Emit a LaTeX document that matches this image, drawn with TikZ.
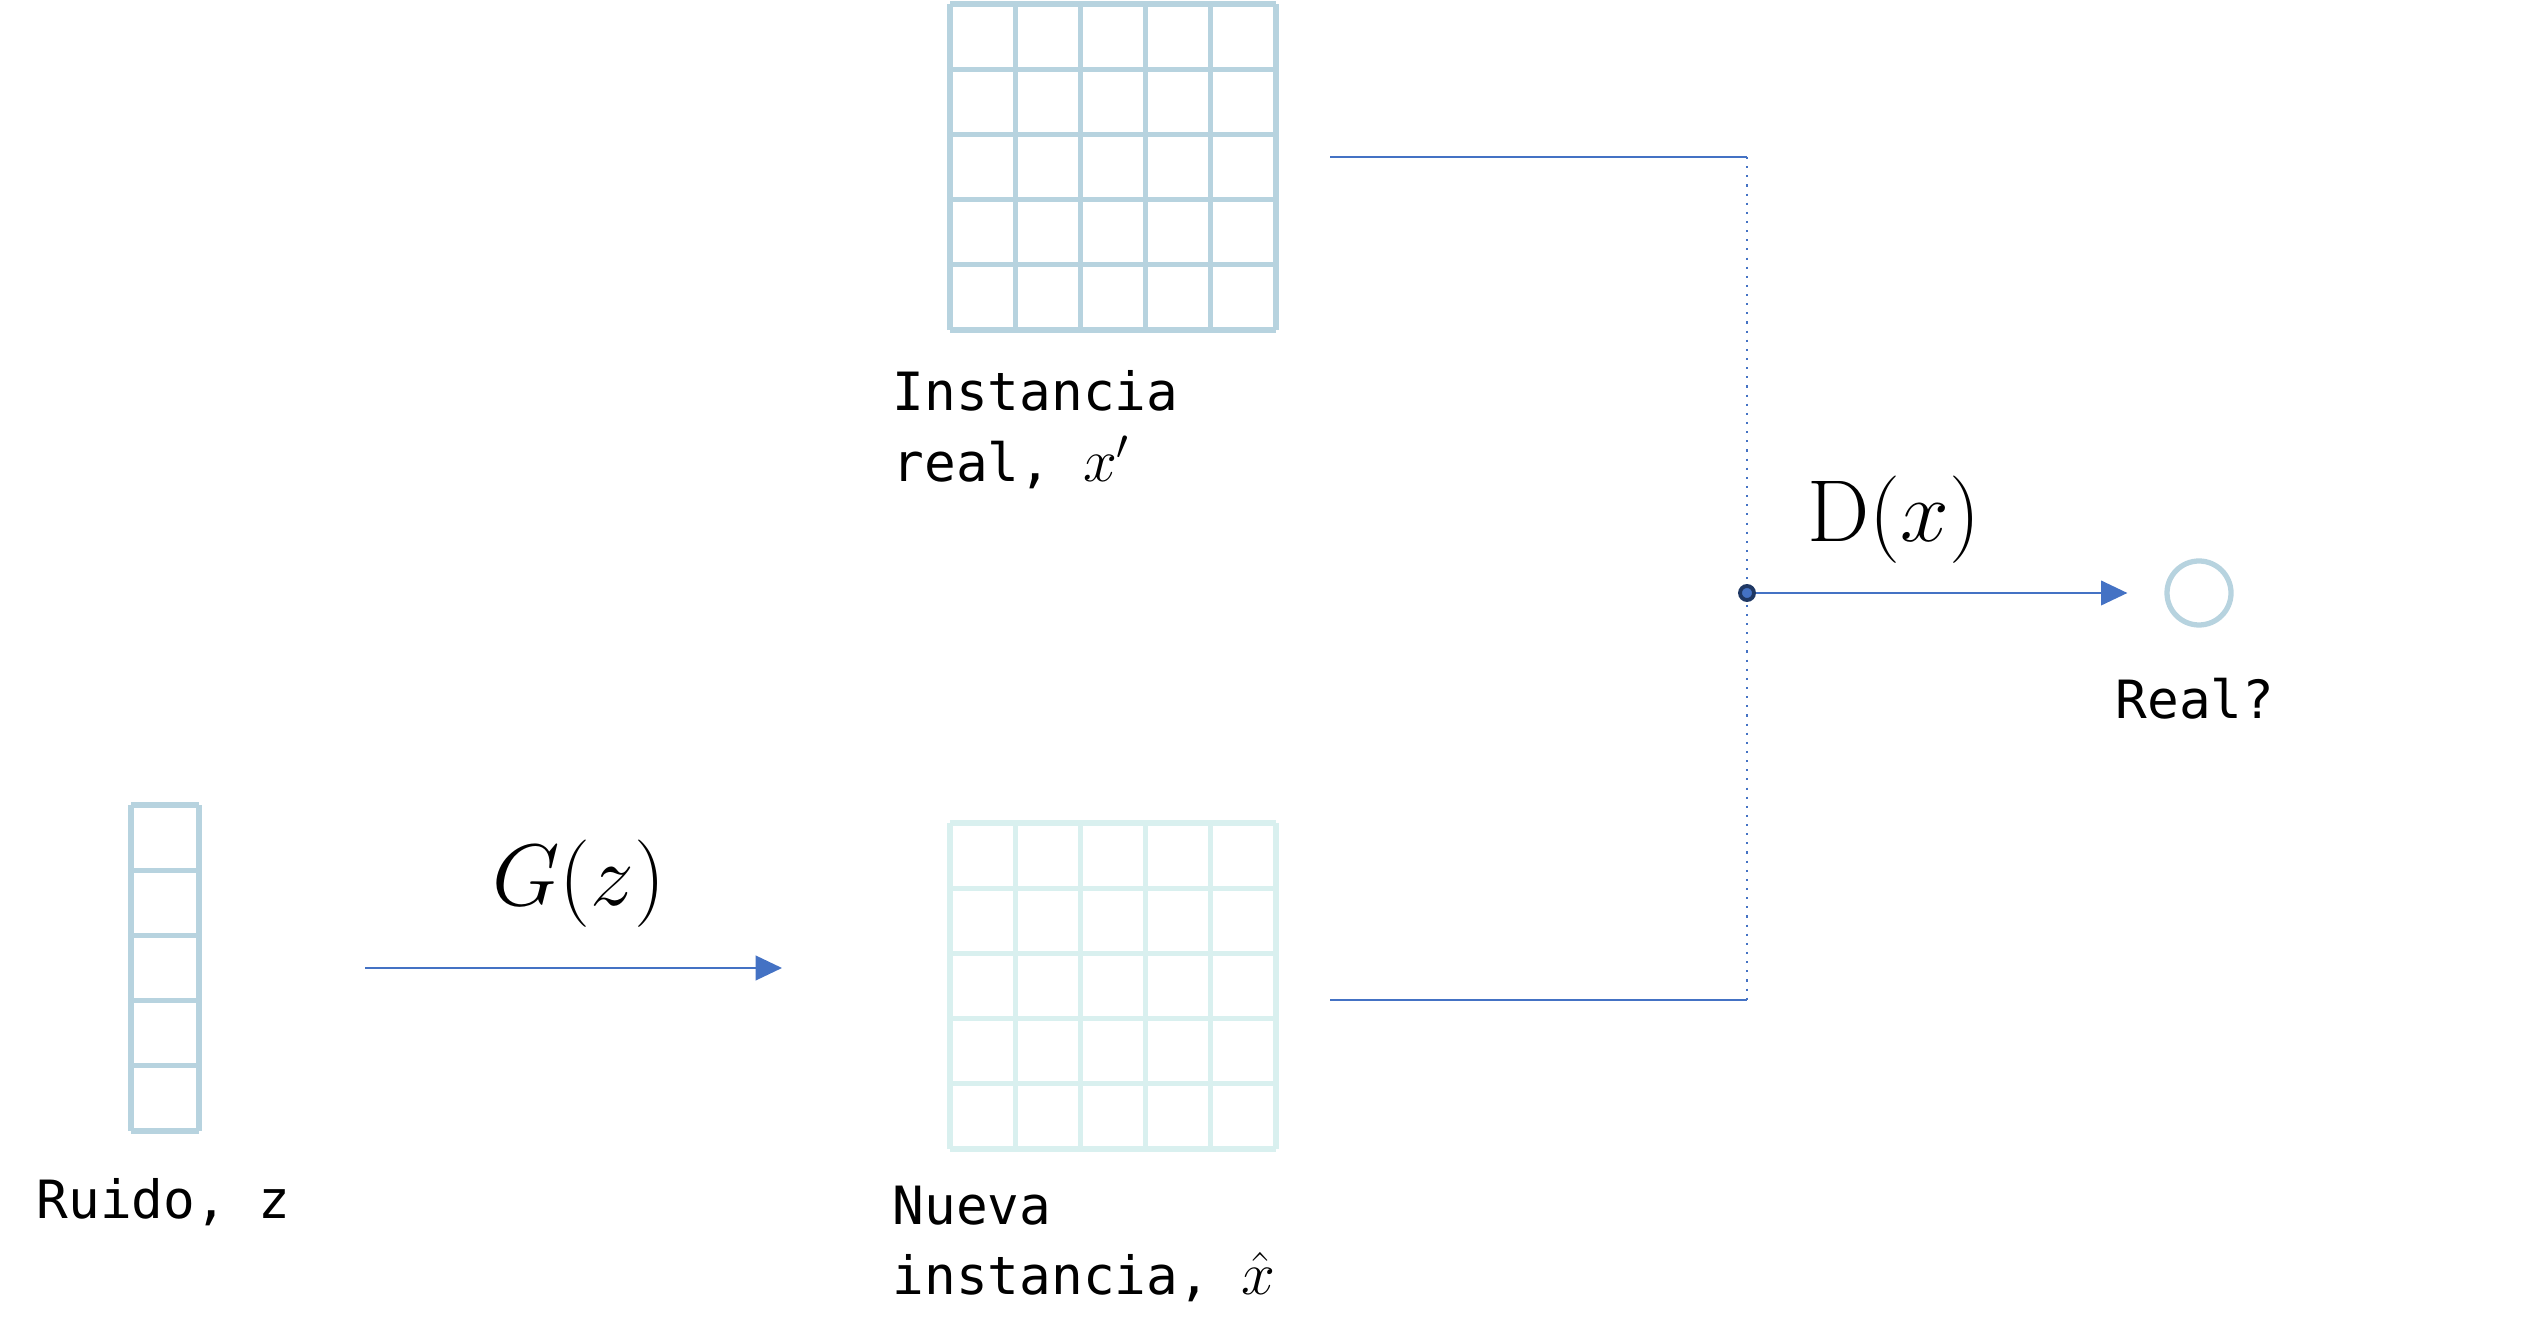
\documentclass[tikz,border=0pt]{standalone}
\usepackage{fontspec}
\setmonofont{DejaVu Sans Mono}
\usetikzlibrary{arrows.meta}
\definecolor{gridblue}{HTML}{B7D3DF}
\definecolor{gridpale}{HTML}{D9F0EF}
\definecolor{linkblue}{HTML}{4472C4}
\definecolor{dotnavy}{HTML}{1F3864}
\newcommand{\lblmath}[1]{{\fontsize{17}{19.5}\selectfont$#1$}}
\tikzset{
  cellgrid/.style={draw=gridblue,line width=1.5pt},
  link/.style={draw=linkblue,line width=0.6pt},
  flow/.style={link,-{Triangle[length=7.5pt,width=7pt]}},
  lbl/.style={font=\fontsize{15}{20}\selectfont\ttfamily,align=left,anchor=north west,inner sep=0pt},
  fn/.style={font=\fontsize{25}{28}\selectfont},
  joint/.style={circle,fill=linkblue,draw=dotnavy,line width=1.1pt,minimum size=0.14cm,inner sep=0pt}
}
\begin{document}
\begin{tikzpicture}
\useasboundingbox (0,0) rectangle (25.34,13.42);
\begin{scope}[shift={(1.31,2.11)},xscale=0.68,yscale=0.652]
\draw[cellgrid] (0,0) grid (1,5);
\end{scope}
\begin{scope}[shift={(9.50,10.12)},scale=0.652]
\draw[cellgrid] (0,0) grid (5,5);
\end{scope}
\begin{scope}[shift={(9.50,1.93)},scale=0.652]
\draw[cellgrid,draw=gridpale] (0,0) grid (5,5);
\end{scope}
\node[lbl] (noiseLbl) at (0.36,1.64) {Ruido, z};
\node[lbl] (realLbl) at (8.92,9.72) {Instancia\\real, \lblmath{x'}};
\node[lbl] (fakeLbl) at (8.92,1.57) {Nueva\\instancia, \lblmath{\hat{x}}};
\node[lbl] (outLbl) at (21.15,6.65) {Real?};
\node[fn] (gLbl) at (5.79,4.58) {$G(z)$};
\node[fn] (dLbl) at (18.94,8.22) {$\mathrm{D}(x)$};
\coordinate (gStart) at (3.65,3.74);
\coordinate (gEnd) at (7.82,3.74);
\draw[flow] (gStart) -- (gEnd);
\coordinate (realOut) at (13.30,11.85);
\coordinate (fakeOut) at (13.30,3.42);
\coordinate (topJoin) at (17.47,11.85);
\coordinate (botJoin) at (17.47,3.42);
\draw[link] (realOut) -- (topJoin);
\draw[link] (fakeOut) -- (botJoin);
\draw[link,dotted] (topJoin) -- (botJoin);
\node[circle,draw=gridblue,line width=1.5pt,minimum size=0.64cm,inner sep=0pt] (out) at (21.99,7.49) {};
\node[joint] (join) at (17.47,7.49) {};
\draw[flow,shorten >=0.37cm] (join) -- (out);
\end{tikzpicture}
\end{document}
